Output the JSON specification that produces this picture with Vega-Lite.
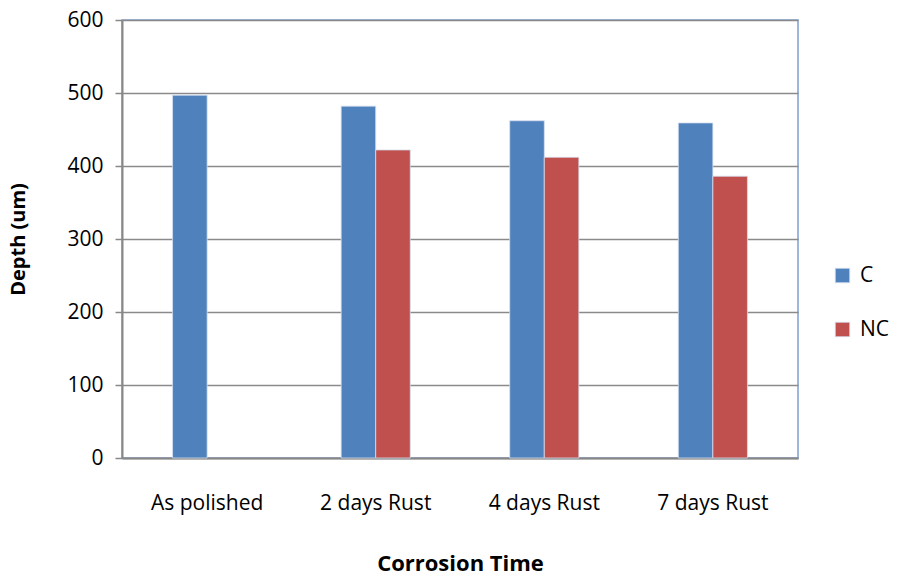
{
  "$schema": "https://vega.github.io/schema/vega-lite/v6.json",
  "width": 676,
  "height": 438,
  "autosize": "none",
  "padding": {"left": 122, "top": 20, "right": 101, "bottom": 123},
  "background": "white",
  "config": {
    "font": "Open Sans",
    "view": {"stroke": "#7F9FD2", "strokeWidth": 1.5}
  },
  "data": {
    "values": [
      {"time": "As polished", "series": "C", "depth": 497},
      {"time": "2 days Rust", "series": "C", "depth": 482},
      {"time": "2 days Rust", "series": "NC", "depth": 422},
      {"time": "4 days Rust", "series": "C", "depth": 462},
      {"time": "4 days Rust", "series": "NC", "depth": 412},
      {"time": "7 days Rust", "series": "C", "depth": 459},
      {"time": "7 days Rust", "series": "NC", "depth": 386}
    ]
  },
  "mark": {"type": "bar", "stroke": "#D6E0F0", "strokeWidth": 0.8},
  "encoding": {
    "x": {
      "field": "time",
      "type": "nominal",
      "sort": ["As polished", "2 days Rust", "4 days Rust", "7 days Rust"],
      "scale": {"paddingInner": 0.59, "paddingOuter": 0.3},
      "axis": {
        "title": "Corrosion Time",
        "titleFont": "Open Sans",
        "titleFontSize": 22,
        "titleFontWeight": "bold",
        "titleColor": "#000",
        "titlePadding": 40,
        "labelAngle": 0,
        "labelFontSize": 21,
        "labelColor": "#000",
        "labelPadding": 34,
        "ticks": false,
        "domainColor": "#888888",
        "domainWidth": 2
      }
    },
    "xOffset": {"field": "series", "type": "nominal", "sort": ["C", "NC"]},
    "y": {
      "field": "depth",
      "type": "quantitative",
      "scale": {"domain": [0, 600], "nice": false},
      "axis": {
        "title": "Depth (um)",
        "titleFont": "Open Sans",
        "titleFontSize": 20,
        "titleFontWeight": "bold",
        "titleColor": "#000",
        "titlePadding": 38,
        "values": [0, 100, 200, 300, 400, 500, 600],
        "labelFontSize": 21,
        "labelColor": "#000",
        "labelPadding": 12,
        "tickSize": 7,
        "tickColor": "#888888",
        "tickWidth": 1.5,
        "domainColor": "#888888",
        "domainWidth": 2,
        "gridColor": "#8A8A8A",
        "gridWidth": 1.5
      }
    },
    "color": {
      "field": "series",
      "type": "nominal",
      "scale": {"domain": ["C", "NC"], "range": ["#4F81BD", "#C0504D"]},
      "legend": {
        "title": null,
        "orient": "none",
        "legendX": 710,
        "legendY": 245,
        "symbolType": "square",
        "symbolSize": 210,
        "symbolStrokeColor": "#D6E0F0",
        "symbolStrokeWidth": 0.8,
        "labelFontSize": 21,
        "labelColor": "#000",
        "rowPadding": 32,
        "labelOffset": 7
      }
    }
  }
}
